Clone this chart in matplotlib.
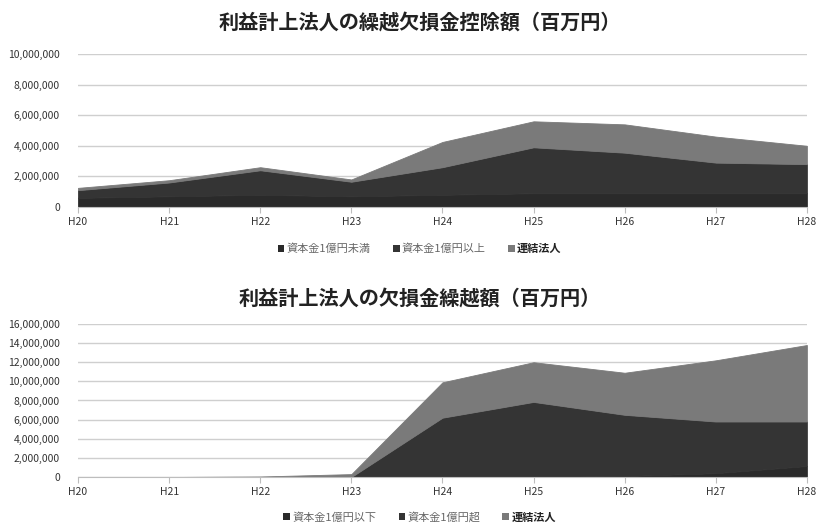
import matplotlib
matplotlib.use("Agg")
import matplotlib.pyplot as plt
from matplotlib.patches import Patch
from matplotlib.ticker import FuncFormatter, MultipleLocator

plt.rcParams["font.family"] = ["Noto Sans CJK JP", "DejaVu Sans"]

# Data
years = ["H20", "H21", "H22", "H23", "H24", "H25", "H26", "H27", "H28"]

# 繰越欠損金控除額 (百万円)
deduct_small = [600000, 700000, 800000, 700000, 800000, 900000, 900000, 900000, 900000]
deduct_large = [500000, 900000, 1600000, 950000, 1800000, 3000000, 2650000, 2000000, 1900000]
deduct_group = [150000, 150000, 200000, 150000, 1650000, 1700000, 1850000, 1700000, 1200000]
deduct_labels = ["資本金1億円未満", "資本金1億円以上", "連結法人"]

# 欠損金繰越額 (百万円)
carry_small = [0, 0, 0, 0, 0, 0, 100000, 400000, 1150000]
carry_large = [0, 0, 0, 0, 6200000, 7850000, 6400000, 5400000, 4650000]
carry_group = [0, 0, 50000, 300000, 3700000, 4150000, 4400000, 6400000, 8000000]
carry_labels = ["資本金1億円以下", "資本金1億円超", "連結法人"]

colors = ["#2a2a2a", "#343434", "#7a7a7a"]
fmt = FuncFormatter(lambda v, p: f"{int(v):,}")


def draw_panel(ax, series, ymax, step):
    x = range(len(years))
    polys = ax.stackplot(x, *series, colors=colors, zorder=2)
    for p, c in zip(polys, colors):
        p.set_edgecolor(c)
        p.set_linewidth(0.6)
    ax.set_xlim(0, len(years) - 1)
    ax.set_ylim(0, ymax)
    ax.yaxis.set_major_locator(MultipleLocator(step))
    ax.yaxis.set_major_formatter(fmt)
    ax.set_xticks(list(x))
    ax.set_xticklabels(years)
    ax.grid(axis="y", color="#cfcfcf", linewidth=1.0, zorder=0)
    for s in ["top", "right", "left"]:
        ax.spines[s].set_visible(False)
    ax.spines["bottom"].set_color("#bdbdbd")
    ax.tick_params(axis="y", length=0, labelsize=7.5, colors="#333333", pad=13)
    ax.tick_params(axis="x", length=4, color="#bdbdbd", labelsize=7.5,
                   colors="#333333", pad=3)


def add_legend(fig, labels, y):
    handles = [Patch(facecolor=c) for c in colors]
    leg = fig.legend(handles, labels, loc="center", bbox_to_anchor=(0.513, y),
                     ncol=3, frameon=False, fontsize=8, handlelength=0.6,
                     handleheight=0.6, handletextpad=0.2, columnspacing=2.0)
    for i, t in enumerate(leg.get_texts()):
        if i == 2:
            t.set_fontweight("bold")
            t.set_color("#222222")
        else:
            t.set_color("#666666")


fig = plt.figure(figsize=(8.18, 5.26), dpi=100)

ax1 = fig.add_axes([0.0954, 0.6065, 0.891, 0.2909])
draw_panel(ax1, [deduct_small, deduct_large, deduct_group], 10000000, 2000000)
fig.text(0.513, 0.958, "利益計上法人の繰越欠損金控除額（百万円）", ha="center",
         va="center", fontsize=14.5, fontweight="bold", color="#222222")
add_legend(fig, deduct_labels, 0.527)

ax2 = fig.add_axes([0.0954, 0.0932, 0.891, 0.2909])
draw_panel(ax2, [carry_small, carry_large, carry_group], 16000000, 2000000)
fig.text(0.513, 0.433, "利益計上法人の欠損金繰越額（百万円）", ha="center",
         va="center", fontsize=14.5, fontweight="bold", color="#222222")
add_legend(fig, carry_labels, 0.017)

fig.savefig("out.png", dpi=100)
